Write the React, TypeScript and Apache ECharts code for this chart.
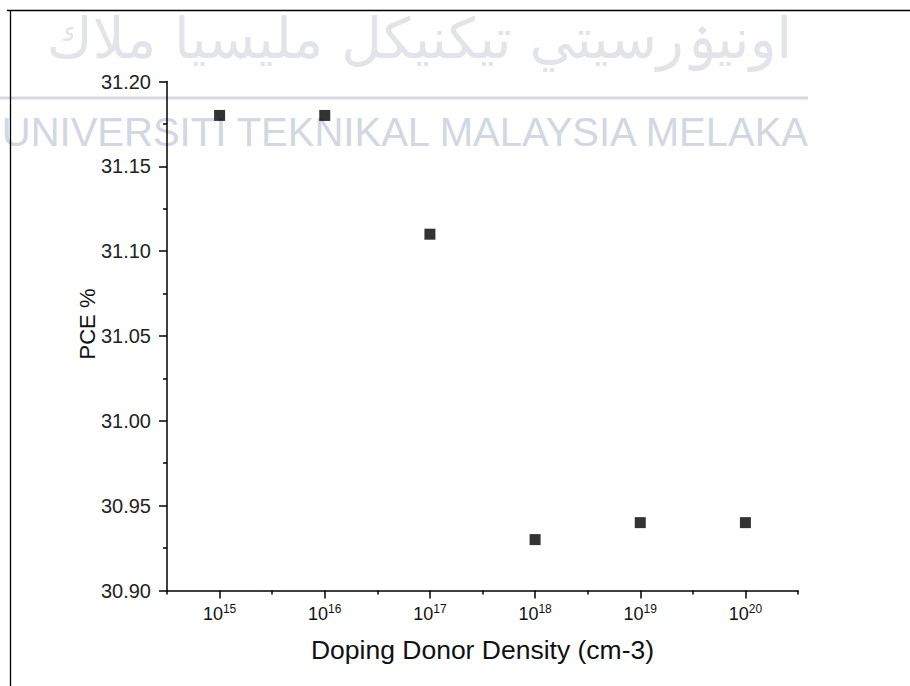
import React, { useEffect, useRef } from "react";
import * as echarts from "echarts";

const exponents = [15, 16, 17, 18, 19, 20];
const pceValues = [31.18, 31.18, 31.11, 30.93, 30.94, 30.94];
const minorXTicks = [14.5, 15.5, 16.5, 17.5, 18.5, 19.5, 20.5];
const yTitle = "PCE %";
const xTitle = "Doping Donor Density (cm-3)";
const watermarkArabic = "اونيۏرسيتي تيكنيكل مليسيا ملاك";
const watermarkLatin = "UNIVERSITI TEKNIKAL MALAYSIA MELAKA";

export default function App() {
  const ref = useRef<HTMLDivElement>(null);
  useEffect(() => {
    document.body.style.margin = "0";
    const chart = echarts.init(ref.current!, null, { renderer: "svg" });
    const font = "Liberation Sans, Arial, sans-serif";
    chart.setOption({
      animation: false,
      backgroundColor: "#ffffff",
      graphic: [
        {
          type: "text",
          z: 0,
          style: {
            x: 792,
            y: 38,
            text: watermarkArabic,
            fontSize: 56,
            fontFamily: "DejaVu Sans",
            fill: "#e3e4e9",
            align: "right",
            verticalAlign: "middle",
          },
        },
        {
          type: "line",
          z: 0,
          shape: { x1: 0, y1: 98, x2: 808, y2: 98 },
          style: { stroke: "#d6d9e2", lineWidth: 3 },
        },
        {
          type: "text",
          z: 0,
          style: {
            x: 808,
            y: 132,
            text: watermarkLatin,
            fontSize: 40,
            fontFamily: font,
            fill: "#d3d7e2",
            align: "right",
            verticalAlign: "middle",
          },
        },
        {
          type: "line",
          z: 10,
          shape: { x1: 7, y1: 10.5, x2: 910, y2: 10.5 },
          style: { stroke: "#000", lineWidth: 1.3 },
        },
        {
          type: "line",
          z: 10,
          shape: { x1: 10.5, y1: 10, x2: 10.5, y2: 686 },
          style: { stroke: "#000", lineWidth: 1.3 },
        },
      ],
      grid: { left: 167, right: 112, top: 81.5, bottom: 95.5, containLabel: false },
      xAxis: [
        {
          type: "value",
          min: 14.5,
          max: 20.5,
          position: "bottom",
          name: xTitle,
          nameLocation: "middle",
          nameGap: 46,
          nameMoveOverlap: false,
          nameTextStyle: { fontSize: 26.5, fontFamily: font, color: "#111" },
          axisLine: { show: true, lineStyle: { color: "#000", width: 1.5 } },
          axisTick: { show: true, customValues: exponents, length: 8, lineStyle: { color: "#000", width: 1.5 } },
          axisLabel: {
            customValues: exponents,
            margin: 12,
            formatter: (v: number) => `{b|10}{s|${Math.round(v)}}`,
            rich: {
              b: { fontSize: 18, fontFamily: font, color: "#111", verticalAlign: "bottom" },
              s: { fontSize: 12, fontFamily: font, color: "#111", verticalAlign: "bottom", padding: [0, 0, 8, 0] },
            },
          },
          splitLine: { show: false },
        },
        {
          type: "value",
          min: 14.5,
          max: 20.5,
          position: "bottom",
          offset: 0,
          axisLine: { show: false },
          axisTick: { show: true, customValues: minorXTicks, length: 4, lineStyle: { color: "#000", width: 1.5 } },
          axisLabel: { show: false },
          splitLine: { show: false },
        },
      ],
      yAxis: {
        type: "value",
        min: 30.9,
        max: 31.2,
        interval: 0.05,
        name: yTitle,
        nameLocation: "middle",
        nameGap: 69,
        nameMoveOverlap: false,
        nameTextStyle: { fontSize: 22, fontFamily: font, color: "#111", padding: [0, 0, 0, 24] },
        axisLine: { show: true, lineStyle: { color: "#000", width: 1.5 } },
        axisTick: { show: true, length: 8, lineStyle: { color: "#000", width: 1.5 } },
        minorTick: { show: true, splitNumber: 2, length: 4, lineStyle: { color: "#000", width: 1.5 } },
        axisLabel: {
          margin: 16,
          fontSize: 20,
          fontFamily: font,
          color: "#222",
          formatter: (v: number) => v.toFixed(2),
        },
        splitLine: { show: false },
      },
      series: [
        {
          type: "scatter",
          xAxisIndex: 0,
          symbol: "rect",
          symbolSize: 11,
          itemStyle: { color: "#000" },
          data: exponents.map((e, i) => [e, pceValues[i]]),
          z: 5,
        },
      ],
    });
    return () => chart.dispose();
  }, []);
  return <div ref={ref} style={{ position: "fixed", left: 0, top: 0, width: 910, height: 686 }} />;
}
